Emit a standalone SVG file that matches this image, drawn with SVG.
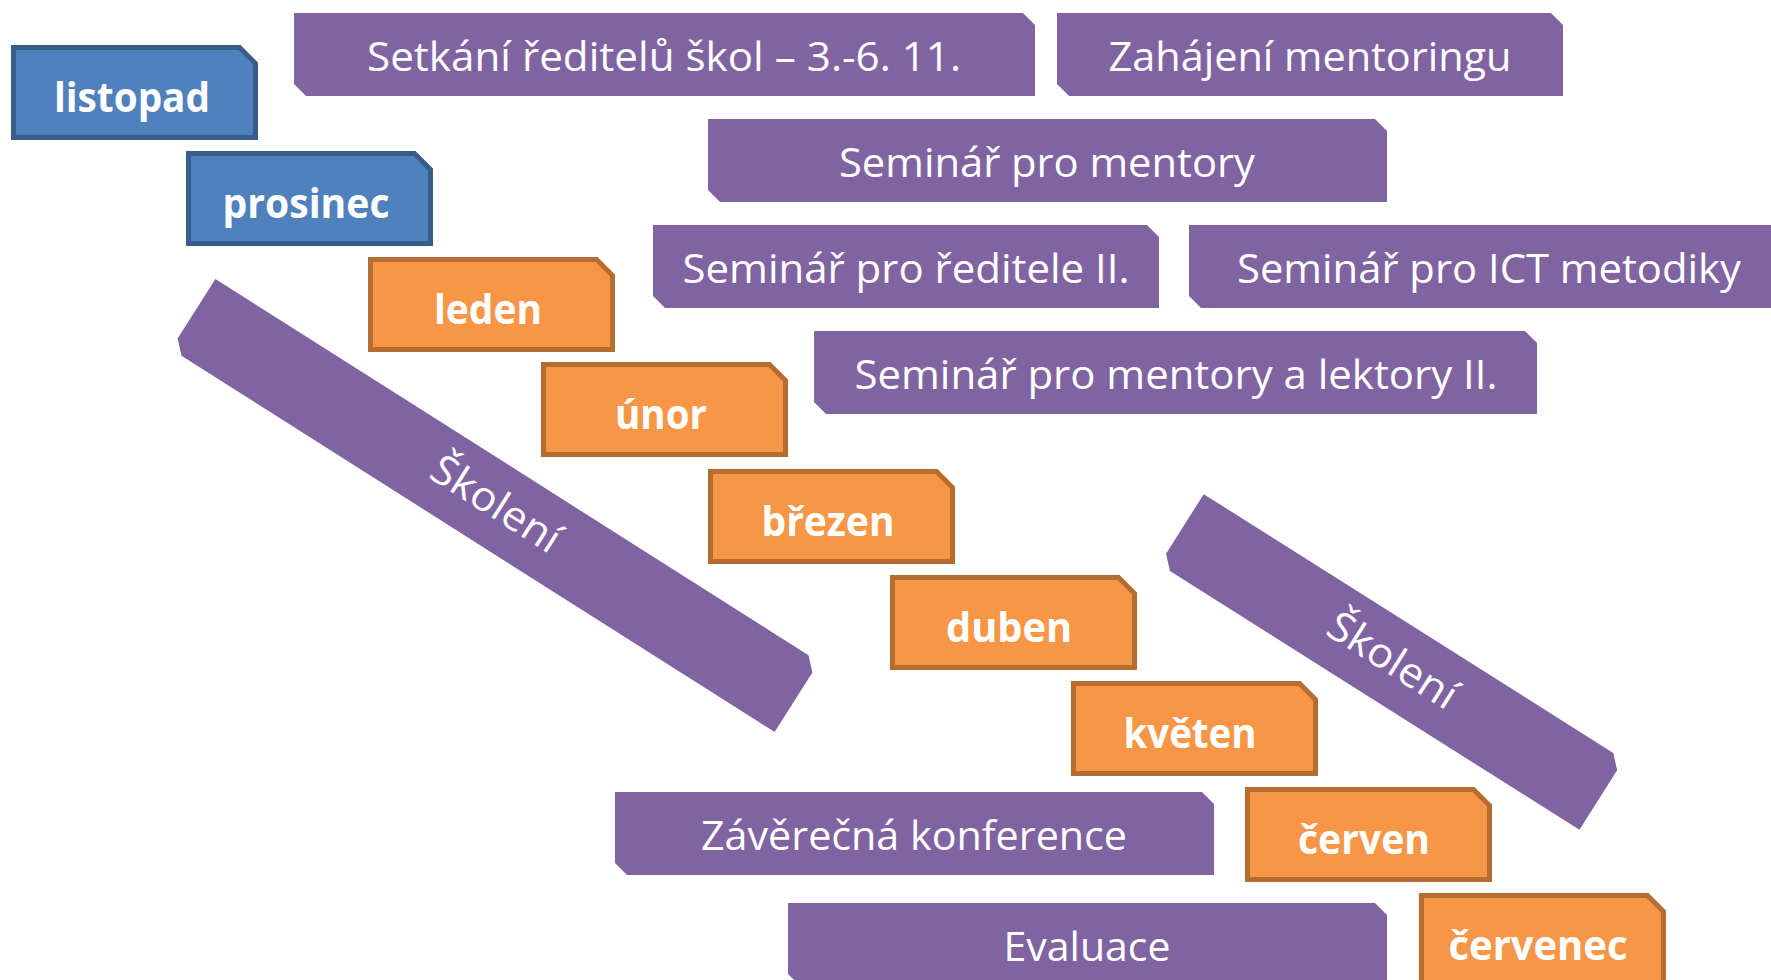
<svg xmlns="http://www.w3.org/2000/svg" xmlns:xlink="http://www.w3.org/1999/xlink" width="1771" height="980" viewBox="0 0 1771 980">
<style>
.bg{fill:#ffffff}
.ev{fill:#8064A2}
.blue{fill:#4F81BD;stroke:#385D8A;stroke-width:5;stroke-linejoin:miter}
.orange{fill:#F79646;stroke:#B66D31;stroke-width:5;stroke-linejoin:miter}
.t{fill:#ffffff;font-family:"Open Sans","Noto Sans","DejaVu Sans",sans-serif;font-size:41px;text-anchor:middle}
.m{fill:#ffffff;font-family:"Open Sans","Noto Sans","DejaVu Sans",sans-serif;font-size:42px;font-weight:700;text-anchor:middle}
</style>
<defs>
<path id="month" d="M0,0 H226 L242,16 V90 H0 Z"/>
</defs>
<rect class="bg" x="0" y="0" width="1771" height="980"/>

<g id="skoleni1" transform="translate(495,505.5) rotate(32.4)">
<path class="ev" d="M-357.5,-41.5 H345 L357.5,-29 V41.5 H-345 L-357.5,29 Z"/>
<text class="t" x="0" y="12" textLength="145" lengthAdjust="spacingAndGlyphs">Školení</text>
</g>
<g id="skoleni2" transform="translate(1391.6,662) rotate(32.3)">
<path class="ev" d="M-248.5,-41.5 H236 L248.5,-29 V41.5 H-236 L-248.5,29 Z"/>
<text class="t" x="0" y="12" textLength="145" lengthAdjust="spacingAndGlyphs">Školení</text>
</g>

<g id="setkani">
<path class="ev" d="M294,13 H1023 L1035,25 V96 H306 L294,84 Z"/>
<text class="t" x="664" y="71" textLength="594" lengthAdjust="spacingAndGlyphs">Setkání ředitelů škol – 3.-6. 11.</text>
</g>
<g id="zahajeni">
<path class="ev" d="M1057,13 H1551 L1563,25 V96 H1069 L1057,84 Z"/>
<text class="t" x="1310" y="71" textLength="403" lengthAdjust="spacingAndGlyphs">Zahájení mentoringu</text>
</g>
<g id="seminar-mentory">
<path class="ev" d="M708,119 H1375 L1387,131 V202 H720 L708,190 Z"/>
<text class="t" x="1047" y="177" textLength="416" lengthAdjust="spacingAndGlyphs">Seminář pro mentory</text>
</g>
<g id="seminar-reditele">
<path class="ev" d="M653,225 H1147 L1159,237 V308 H665 L653,296 Z"/>
<text class="t" x="906" y="283" textLength="447" lengthAdjust="spacingAndGlyphs">Seminář pro ředitele II.</text>
</g>
<g id="seminar-ict">
<path class="ev" d="M1189,225 H1777 L1789,237 V308 H1201 L1189,296 Z"/>
<text class="t" x="1489" y="283" textLength="504" lengthAdjust="spacingAndGlyphs">Seminář pro ICT metodiky</text>
</g>
<g id="seminar-lektory">
<path class="ev" d="M814,331 H1525 L1537,343 V414 H826 L814,402 Z"/>
<text class="t" x="1176" y="389" textLength="643" lengthAdjust="spacingAndGlyphs">Seminář pro mentory a lektory II.</text>
</g>
<g id="zaverecna">
<path class="ev" d="M615,792 H1202 L1214,804 V875 H627 L615,863 Z"/>
<text class="t" x="914" y="850" textLength="426" lengthAdjust="spacingAndGlyphs">Závěrečná konference</text>
</g>
<g id="evaluace">
<path class="ev" d="M788,903 H1375 L1387,915 V986 H800 L788,974 Z"/>
<text class="t" x="1087" y="961" textLength="167" lengthAdjust="spacingAndGlyphs">Evaluace</text>
</g>

<g id="listopad">
<use xlink:href="#month" href="#month" class="blue" x="13.5" y="47.5"/>
<text class="m" x="132" y="112" textLength="156" lengthAdjust="spacingAndGlyphs">listopad</text>
</g>
<g id="prosinec">
<use xlink:href="#month" href="#month" class="blue" x="188.5" y="153.5"/>
<text class="m" x="306" y="218" textLength="167" lengthAdjust="spacingAndGlyphs">prosinec</text>
</g>
<g id="leden">
<use xlink:href="#month" href="#month" class="orange" x="370.5" y="259.5"/>
<text class="m" x="488" y="324" textLength="108" lengthAdjust="spacingAndGlyphs">leden</text>
</g>
<g id="unor">
<use xlink:href="#month" href="#month" class="orange" x="543.5" y="364.5"/>
<text class="m" x="661" y="429" textLength="92" lengthAdjust="spacingAndGlyphs">únor</text>
</g>
<g id="brezen">
<use xlink:href="#month" href="#month" class="orange" x="710.5" y="471.5"/>
<text class="m" x="828" y="536" textLength="133" lengthAdjust="spacingAndGlyphs">březen</text>
</g>
<g id="duben">
<use xlink:href="#month" href="#month" class="orange" x="892.5" y="577.5"/>
<text class="m" x="1009" y="642" textLength="126" lengthAdjust="spacingAndGlyphs">duben</text>
</g>
<g id="kveten">
<use xlink:href="#month" href="#month" class="orange" x="1073.5" y="683.5"/>
<text class="m" x="1190" y="748" textLength="133" lengthAdjust="spacingAndGlyphs">květen</text>
</g>
<g id="cerven">
<use xlink:href="#month" href="#month" class="orange" x="1247.5" y="789.5"/>
<text class="m" x="1364" y="854" textLength="132" lengthAdjust="spacingAndGlyphs">červen</text>
</g>
<g id="cervenec">
<use xlink:href="#month" href="#month" class="orange" x="1421.5" y="895.5"/>
<text class="m" x="1538" y="960" textLength="179" lengthAdjust="spacingAndGlyphs">červenec</text>
</g>
</svg>
